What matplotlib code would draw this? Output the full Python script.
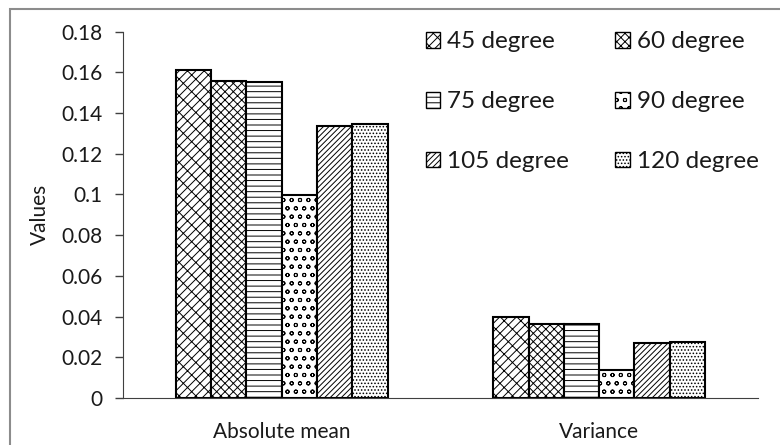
import numpy as np
import matplotlib.pyplot as plt
from matplotlib.patches import Rectangle

plt.rcParams['font.family'] = ['Lato', 'DejaVu Sans']
plt.rcParams['hatch.linewidth'] = 0.7

categories = ['Absolute mean', 'Variance']
angles = ['45 degree', '60 degree', '75 degree', '90 degree', '105 degree', '120 degree']
values = {
    '45 degree': [0.161, 0.040],
    '60 degree': [0.1557, 0.0365],
    '75 degree': [0.1554, 0.0362],
    '90 degree': [0.0997, 0.0136],
    '105 degree': [0.1338, 0.0272],
    '120 degree': [0.1348, 0.0275],
}
hatches = ['////\\\\', 'xxxx', '---', 'oo', '//////', '.....']

fig = plt.figure(figsize=(7.8, 4.45), dpi=100)
ax = fig.add_axes([0.1577, 0.1056, 0.814, 0.8234])

x = np.arange(len(categories))
w = 0.6667 / len(angles)
bars = []
for i, name in enumerate(angles):
    b = ax.bar(x + (i - 2.5) * w, values[name], w, color='white',
               edgecolor='black', linewidth=1.5, hatch=hatches[i], label=name)
    bars.append(b)

ax.set_xlim(-0.5, 1.5)
ax.set_ylim(0, 0.18)
ax.set_yticks(np.arange(0, 0.181, 0.02))
ax.set_yticklabels(['0', '0.02', '0.04', '0.06', '0.08', '0.1', '0.12', '0.14', '0.16', '0.18'])
ax.set_xticks(x)
ax.set_xticklabels(categories)
ax.tick_params(axis='y', direction='out', length=6, width=1, pad=9, labelsize=15, colors='#404040')
ax.tick_params(axis='x', length=0, pad=17, labelsize=15, colors='#404040')
for lbl in ax.get_yticklabels() + ax.get_xticklabels():
    lbl.set_color('#1a1a1a')
ax.spines['top'].set_visible(False)
ax.spines['right'].set_visible(False)
ax.spines['left'].set_color('#404040')
ax.spines['bottom'].set_color('#404040')
ax.set_ylabel('Values', fontsize=15, labelpad=8, color='#1a1a1a')

# legend filled row by row: 45/60, 75/90, 105/120
order = [0, 2, 4, 1, 3, 5]
leg = ax.legend([bars[k] for k in order], [angles[k] for k in order],
                ncol=2, loc='upper left', bbox_to_anchor=(0.442, 1.06), frameon=False,
                fontsize=17.5, handlelength=0.6, handleheight=0.6, handletextpad=0.3,
                labelspacing=1.6, columnspacing=1.9, labelcolor='#1a1a1a')
for p in leg.get_patches():
    p.set_linewidth(1.0)

# outer chart border
fig.patches.append(Rectangle((10 / 780, -0.1), 1.2, 1 - 9 / 445 + 0.1,
                             transform=fig.transFigure, fill=False,
                             edgecolor='#8c8c8c', linewidth=1.5))

fig.savefig('out.png', dpi=100)
